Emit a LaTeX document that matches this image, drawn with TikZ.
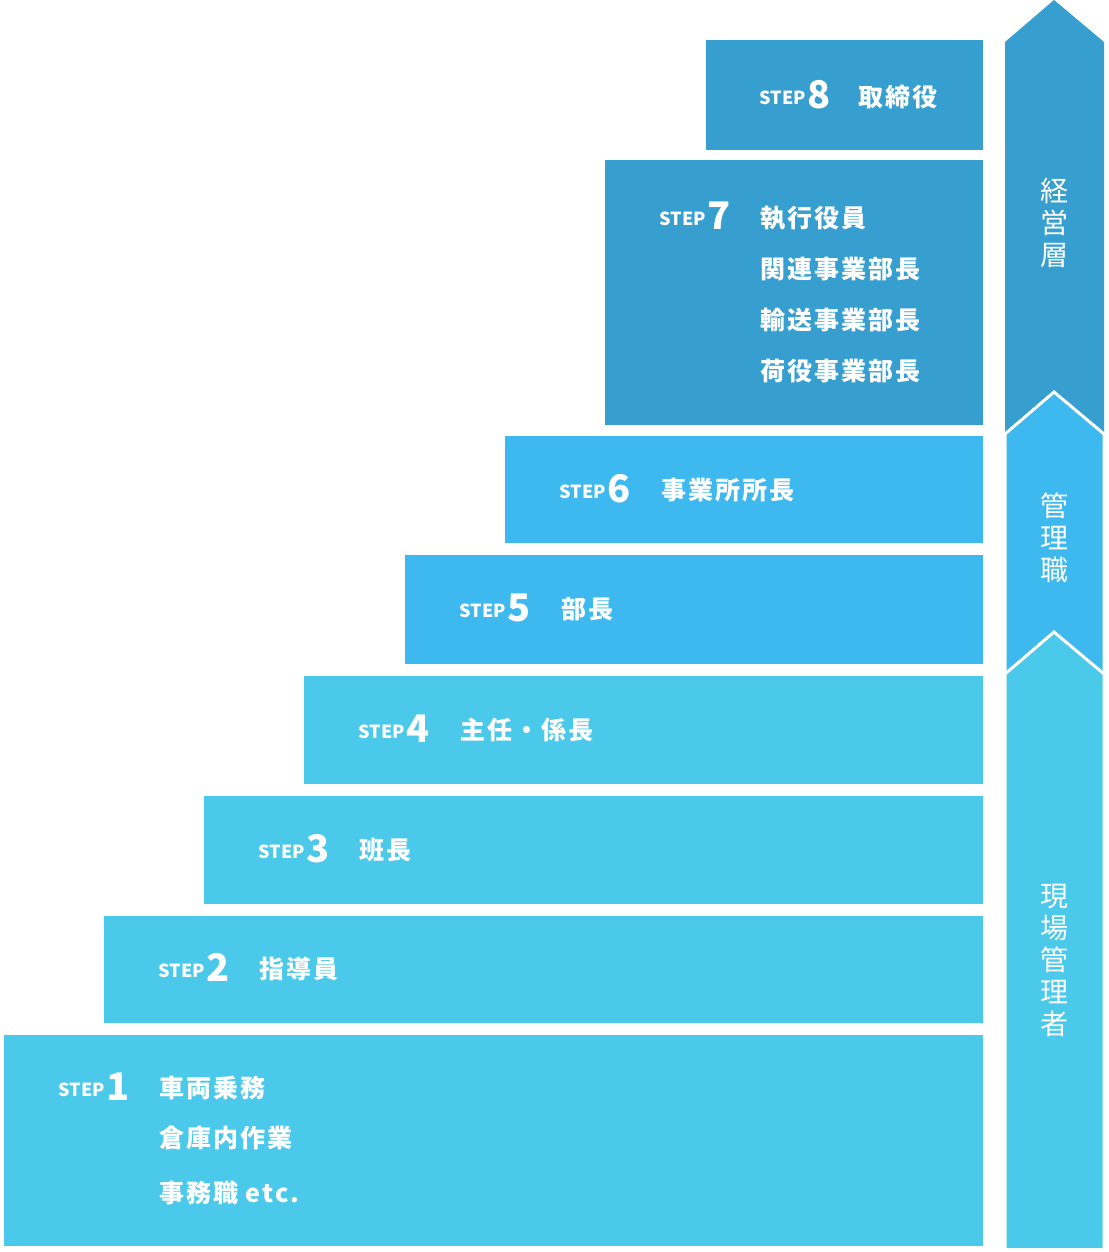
\documentclass[tikz,border=0pt]{standalone}
\usepackage{fontspec}
\newfontfamily\cjk{Noto Sans CJK JP}[LetterSpace=8]
\newfontfamily\cjkns{Noto Sans CJK JP}
\begin{document}
\begin{tikzpicture}[x=1pt,y=-1pt,
  box/.style={draw=none},
  lab/.style={text=white,font=\cjk\bfseries\fontsize{25}{25}\selectfont,anchor=west,inner sep=0},
  vlab/.style={text=white,font=\cjkns\fontsize{28}{32}\selectfont,align=center,inner sep=0},
  div/.style={white,line width=1.2pt}]
\definecolor{cA}{HTML}{379FD0}
\definecolor{cB}{HTML}{3DB9F0}
\definecolor{cC}{HTML}{4BC9EA}
\useasboundingbox (0,0) rectangle (1108,1252);
\newcommand\stepl[4]{% left, y, number, name
  \node[anchor=base east,inner sep=0,text=white,font=\cjkns\bfseries\fontsize{18}{18}\selectfont] (st#3) at (#1+80,#2+8) {STEP};
  \node[anchor=base west,inner sep=0,text=white,font=\cjkns\bfseries\fontsize{38}{38}\selectfont] (n#3) at (#1+81,#2+12) {#3};}
% boxes
\fill[cA] (706,40) rectangle (983,150);
\fill[cA] (605,160) rectangle (983,425);
\fill[cB] (505,436) rectangle (983,543);
\fill[cB] (405,555) rectangle (983,664);
\fill[cC] (304,676) rectangle (983,784);
\fill[cC] (204,796) rectangle (983,904);
\fill[cC] (104,916) rectangle (983,1023);
\fill[cC] (4,1035) rectangle (983,1246);
% steps
\stepl{726}{97}{8}
\draw[div] (833,77) -- (833,116);
\node[lab] (t8) at (858,97) {取締役};
\stepl{626}{217}{7}
\draw[div] (733,197) -- (733,390);
\node[lab] (t7a) at (760,218) {執行役員};
\node[lab] (t7b) at (760,269) {関連事業部長};
\node[lab] (t7c) at (760,320) {輸送事業部長};
\node[lab] (t7d) at (760,371) {荷役事業部長};
\stepl{526}{490}{6}
\draw[div] (633,470) -- (633,509);
\node[lab] (t6) at (661,490) {事業所所長};
\stepl{426}{609}{5}
\draw[div] (533,589) -- (533,628);
\node[lab] (t5) at (561,609) {部長};
\stepl{325}{730}{4}
\draw[div] (432,710) -- (432,749);
\node[lab] (t4) at (460,730) {主任・係長};
\stepl{225}{850}{3}
\draw[div] (332,830) -- (332,869);
\node[lab] (t3) at (359,850) {班長};
\stepl{125}{969}{2}
\draw[div] (232,949) -- (232,988);
\node[lab] (t2) at (259,969) {指導員};
\stepl{25}{1088}{1}
\draw[div] (131,1068) -- (131,1215);
\node[lab] (t1a) at (159,1088) {車両乗務};
\node[lab] (t1b) at (159,1138) {倉庫内作業};
\node[lab] (t1c) at (159,1193) {事務職 etc.};
% arrow column
\fill[cA] (1005,42) -- (1054,0) -- (1104,42) -- (1104,450) -- (1005,450) -- cycle;
\filldraw[cB,draw=white,line width=3pt] (1005,434) -- (1054,392) -- (1104,434) -- (1104,690) -- (1005,690) -- cycle;
\filldraw[cC,draw=white,line width=3pt] (1005,674) -- (1054,632) -- (1104,674) -- (1104,1260) -- (1005,1260) -- cycle;
\fill[white] (1000,1248) rectangle (1108,1252);
\node[vlab] (v1) at (1054,223) {経\\営\\層};
\node[vlab] (v2) at (1054,538) {管\\理\\職};
\node[vlab] (v3) at (1054,960) {現\\場\\管\\理\\者};
\end{tikzpicture}
\end{document}
